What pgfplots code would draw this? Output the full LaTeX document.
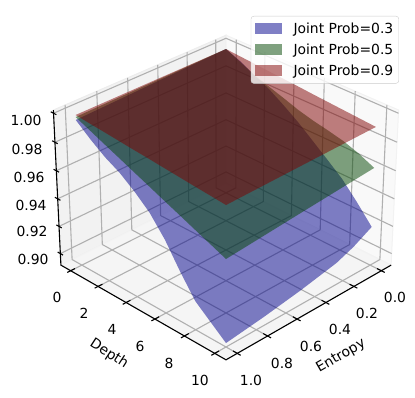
\documentclass[border=0pt]{standalone}
\usepackage{fontspec}
\setmainfont{DejaVu Sans}
\usepackage{pgfplots}
\usepackage{pgfplotstable}
\pgfplotsset{compat=1.18}
\definecolor{cblue}{rgb}{0,0,0.55}
\definecolor{cgreen}{rgb}{0,0.27,0}
\definecolor{cred}{rgb}{0.5,0,0}
% each surface: its outline over Entropy (x) and Depth (y)
\pgfplotstableread{
x y z
0 0 0.9987
0 1 0.9945
0 2 0.9888
0 3 0.9838
0 4 0.9770
0 5 0.9696
0 6 0.9611
0 7 0.9525
0 8 0.9437
0 9 0.9322
0 10 0.9196
0.13 10 0.9122
0.25 10 0.9073
0.5 10 0.9019
0.75 10 0.8976
1 10 0.8942
1 9 0.9030
1 8 0.9118
1 7 0.9270
1 6 0.9438
1 5 0.9570
1 4 0.9662
1 3 0.9740
1 2 0.9797
1 1 0.9870
1 0 0.9954
0.75 0 0.9962
0.5 0 0.9971
0.25 0 0.9979
0 0 0.9987
}\blue
\pgfplotstableread{
x y z
0 0 0.9987
0 1 0.9940
0 2 0.9890
0 3 0.9855
0 4 0.9820
0 5 0.9783
0 6 0.9755
0 7 0.9733
0 8 0.9708
0 9 0.9670
0 10 0.9620
0.5 10 0.9575
1 10 0.9529
1 9 0.9574
1 8 0.9618
1 7 0.9663
1 6 0.9707
1 5 0.9752
1 4 0.9796
1 3 0.9841
1 2 0.9885
1 1 0.9930
1 0 0.9974
0.5 0 0.9981
0 0 0.9987
}\green
\pgfplotstableread{
x y z
0 0 0.9987
0 1 0.9979
0 2 0.9971
0 3 0.9963
0 4 0.9955
0 5 0.9947
0 6 0.9938
0 7 0.9930
0 8 0.9922
0 9 0.9914
0 10 0.9906
0.5 10 0.9899
1 10 0.9891
1 9 0.9901
1 8 0.9910
1 7 0.9920
1 6 0.9930
1 5 0.9940
1 4 0.9949
1 3 0.9959
1 2 0.9969
1 1 0.9978
1 0 0.9988
0.5 0 0.9988
0 0 0.9987
}\red
\pgfplotsset{
  /pgfplots/table/proj/.style={
    x expr={pjx(\thisrow{x},\thisrow{y},\thisrow{z})},
    y expr={pjy(\thisrow{x},\thisrow{y},\thisrow{z})}},
  gridl/.style={forget plot,no marks,draw={rgb,1:red,0.69;green,0.69;blue,0.69},line width=1.1pt},
  blk/.style={forget plot,no marks,draw=black,line width=1.1pt},
  surface/.style={forget plot,no marks,draw=none,fill=#1,fill opacity=0.5},
}
\newcommand\lab[3]{\node[font=\fontsize{13.9}{16}\selectfont,inner sep=0pt] at (axis cs:#1,#2) {#3};}
\begin{document}
\begin{tikzpicture}[declare function={
  pga(\x)=((\x+0.05)/1.1-0.5)*1.142857;
  pgb(\y)=((\y+0.5)/11-0.5)*1.142857;
  pgc(\z)=(0.06+9.4*(\z-0.9)-0.5)*0.857143;
  pjd(\x,\y,\z)=10-(0.61237*(pga(\x)+pgb(\y))+0.5*pgc(\z));
  pjx(\x,\y,\z)=226+2005*0.70711*(pgb(\y)-pga(\x))/pjd(\x,\y,\z);
  pjy(\x,\y,\z)=189.3-2005*(-0.35355*(pga(\x)+pgb(\y))+0.86603*pgc(\z))/pjd(\x,\y,\z);
}]
\useasboundingbox (0,0) rectangle (415pt,398pt);
\begin{axis}[
  hide axis,scale only axis,width=415pt,height=398pt,at={(0,0)},anchor=south west,
  xmin=0,xmax=415,ymin=0,ymax=398,y dir=reverse,clip=false,
  legend cell align=left,
  legend style={at={(0.9614,0.9598)},anchor=north east,draw={rgb,1:red,0.8;green,0.8;blue,0.8},
    rounded corners=2.8pt,fill=white,fill opacity=0.8,draw opacity=1,text opacity=1,
    font=\fontsize{13.9}{16}\selectfont,inner xsep=4pt,inner ysep=5pt,
    nodes={inner sep=1.5pt},row sep=6pt},
  legend image code/.code={\fill[sharp corners,draw=none,#1] (0pt,-5pt) rectangle (27pt,5.4pt);\path[draw=none,fill=none] (0pt,0pt) -- (37pt,0pt);},
]
% panes
\addplot[forget plot,no marks,fill={rgb,1:red,0.95;green,0.95;blue,0.95},draw={rgb,1:red,0.93;green,0.93;blue,0.93},line width=1pt]
 table[proj,row sep=\\]{x y z\\ 1.0729 -0.729 0.8914\\ -0.0729 -0.729 0.8914\\ -0.0729 -0.729 1.0022\\ 1.0729 -0.729 1.0022\\ 1.0729 -0.729 0.8914\\};
\addplot[forget plot,no marks,fill={rgb,1:red,0.975;green,0.975;blue,0.975},draw={rgb,1:red,0.95;green,0.95;blue,0.95},line width=1pt]
 table[proj,row sep=\\]{x y z\\ -0.0729 -0.729 0.8914\\ -0.0729 10.729 0.8914\\ -0.0729 10.729 1.0022\\ -0.0729 -0.729 1.0022\\ -0.0729 -0.729 0.8914\\};
\addplot[forget plot,no marks,fill={rgb,1:red,0.9625;green,0.9625;blue,0.9625},draw={rgb,1:red,0.95;green,0.95;blue,0.95},line width=1pt]
 table[proj,row sep=\\]{x y z\\ -0.0729 -0.729 0.8914\\ -0.0729 10.729 0.8914\\ 1.0729 10.729 0.8914\\ 1.0729 -0.729 0.8914\\ -0.0729 -0.729 0.8914\\};
% grid
\pgfplotsinvokeforeach{0,0.2,0.4,0.6,0.8,1}{
 \addplot[gridl] table[proj,row sep=\\]{x y z\\ #1 10.729 0.8914\\ #1 -0.729 0.8914\\ #1 -0.729 1.0022\\};}
\pgfplotsinvokeforeach{0,2,4,6,8,10}{
 \addplot[gridl] table[proj,row sep=\\]{x y z\\ 1.0729 #1 0.8914\\ -0.0729 #1 0.8914\\ -0.0729 #1 1.0022\\};}
\pgfplotsinvokeforeach{0.90,0.92,0.94,0.96,0.98,1.00}{
 \addplot[gridl] table[proj,row sep=\\]{x y z\\ 1.0729 -0.729 #1\\ -0.0729 -0.729 #1\\ -0.0729 10.729 #1\\};}
% axis lines
\addplot[blk] table[proj,row sep=\\]{x y z\\ -0.0729 10.729 0.8914\\ 1.0729 10.729 0.8914\\ 1.0729 -0.729 0.8914\\ 1.0729 -0.729 1.0022\\};
\pgfplotsinvokeforeach{0,0.2,0.4,0.6,0.8,1}{
 \addplot[blk] table[proj,row sep=\\]{x y z\\ #1 10.95 0.8914\\ #1 10.45 0.8914\\};}
\pgfplotsinvokeforeach{0,2,4,6,8,10}{
 \addplot[blk] table[proj,row sep=\\]{x y z\\ 1.095 #1 0.8914\\ 1.045 #1 0.8914\\};}
\pgfplotsinvokeforeach{0.90,0.92,0.94,0.96,0.98,1.00}{
 \addplot[blk] table[proj,row sep=\\]{x y z\\ 1.0729 -0.93 #1\\ 1.0729 -0.53 #1\\};}
% surfaces
\addplot[surface=cblue] table[proj] {\blue};
\addplot[surface=cgreen] table[proj] {\green};
\addplot[surface=cred] table[proj] {\red};
% legend
\addlegendimage{fill=cblue,fill opacity=0.5}\addlegendentry{Joint Prob=0.3}
\addlegendimage{fill=cgreen,fill opacity=0.5}\addlegendentry{Joint Prob=0.5}
\addlegendimage{fill=cred,fill opacity=0.5}\addlegendentry{Joint Prob=0.9}
% labels
\lab{26}{120}{1.00}\lab{27}{149}{0.98}\lab{29}{177}{0.96}\lab{31}{205}{0.94}\lab{32}{231}{0.92}\lab{33}{259}{0.90}
\lab{57}{297}{0}\lab{84}{313}{2}\lab{112}{329}{4}\lab{140}{346}{6}\lab{169}{363}{8}\lab{200}{380}{10}
\lab{395}{297}{0.0}\lab{367}{313}{0.2}\lab{340}{329}{0.4}\lab{311}{346}{0.6}\lab{282}{363}{0.8}\lab{251}{380}{1.0}
\node[font=\fontsize{13.9}{16}\selectfont,rotate=-33,inner sep=0pt] at (axis cs:109,354) {Depth};
\node[font=\fontsize{13.9}{16}\selectfont,rotate=30,inner sep=0pt] at (axis cs:341,356) {Entropy};
\end{axis}
\end{tikzpicture}
\end{document}
